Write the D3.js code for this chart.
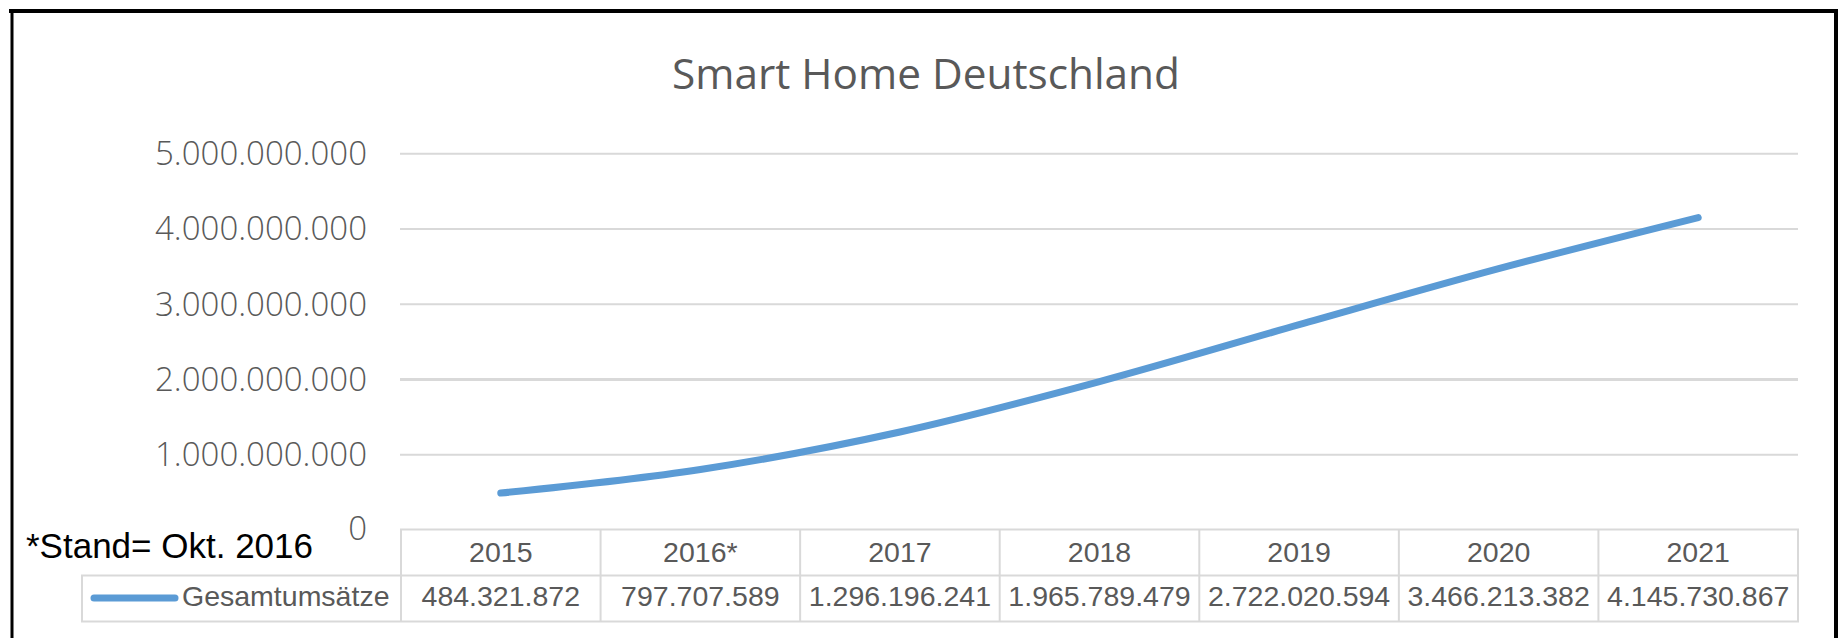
<!DOCTYPE html>
<html>
<head>
<meta charset="utf-8">
<script src="https://cdn.jsdelivr.net/npm/d3@7"></script>
<style>
  html, body { margin: 0; padding: 0; background: #ffffff; }
  svg { display: block; }
</style>
</head>
<body>
<svg id="chart" width="1838" height="638"></svg>
<script>
// ---- data ----
const title = "Smart Home Deutschland";
const categories = ["2015", "2016*", "2017", "2018", "2019", "2020", "2021"];
const seriesName = "Gesamtumsätze";
const values = [484321872, 797707589, 1296196241, 1965789479, 2722020594, 3466213382, 4145730867];
const valueLabels = ["484.321.872", "797.707.589", "1.296.196.241", "1.965.789.479", "2.722.020.594", "3.466.213.382", "4.145.730.867"];
const yTicks = [0, 1000000000, 2000000000, 3000000000, 4000000000, 5000000000];
const footnote = "*Stand= Okt. 2016";

// ---- layout ----
const W = 1838, H = 638;
const plotLeft = 401, plotRight = 1798;
const yTop = 153.3, yZero = 529.5;
const row1 = 575.5, row2 = 621.5;
const legendLeft = 82;
const grey = "#595959", gridCol = "#d9d9d9", lineCol = "#5b9bd5";

const svg = d3.select("#chart");
svg.append("rect").attr("width", W).attr("height", H).attr("fill", "#fff");

const x = d3.scaleBand().domain(categories).range([plotLeft, plotRight]);
const y = d3.scaleLinear().domain([0, 5000000000]).range([yZero, yTop]);
const fmt = d3.formatLocale({decimal: ",", thousands: ".", grouping: [3], currency: ["", "€"]}).format(",.0f");

// frame
svg.append("line").attr("x1", 9).attr("x2", W).attr("y1", 11).attr("y2", 11).attr("stroke", "#000").attr("stroke-width", 4);
svg.append("line").attr("x1", 12).attr("x2", 12).attr("y1", 9).attr("y2", H).attr("stroke", "#000").attr("stroke-width", 3);
svg.append("line").attr("x1", 1836).attr("x2", 1836).attr("y1", 9).attr("y2", H).attr("stroke", "#000").attr("stroke-width", 4);

// title
const t = svg.append("text").attr("x", 926).attr("y", 89).attr("text-anchor", "middle")
  .attr("font-family", "'Open Sans', sans-serif").attr("font-size", 44).attr("fill", grey).text(title);
{
  const w = t.node().getComputedTextLength();
  t.attr("font-size", 44 * 508 / w);
}

// y gridlines via axis
const yAxis = d3.axisLeft(y).tickValues(yTicks).tickFormat(fmt).tickSize(-(plotRight - plotLeft)).tickPadding(34);
const gy = svg.append("g").attr("transform", `translate(${plotLeft},0)`).call(yAxis);
gy.select(".domain").remove();
gy.selectAll(".tick line").attr("stroke", gridCol).attr("stroke-width", d => d === 2000000000 ? 3 : 2)
  .attr("x1", -1);
gy.selectAll(".tick").filter(d => d === 0).select("line").remove();
gy.selectAll(".tick text").attr("font-family", "'Open Sans', sans-serif").attr("font-weight", 300)
  .attr("font-size", 33).attr("fill", grey).attr("dy", "0.34em");
gy.selectAll(".tick text").filter(d => d === 0).attr("dy", "0.3em");

// footnote
svg.append("text").attr("x", 26).attr("y", 557.7).attr("font-family", "'Liberation Sans', Arial, sans-serif")
  .attr("font-size", 35).attr("fill", "#000").text(footnote);

// data table
const tbl = svg.append("g");
const hl = (x1, x2, yy) => tbl.append("line").attr("x1", x1).attr("x2", x2).attr("y1", yy).attr("y2", yy)
  .attr("stroke", gridCol).attr("stroke-width", 2);
const vl = (xx, y1, y2) => tbl.append("line").attr("x1", xx).attr("x2", xx).attr("y1", y1).attr("y2", y2)
  .attr("stroke", gridCol).attr("stroke-width", 2);
hl(plotLeft - 1, plotRight + 1, yZero);
hl(legendLeft - 1, plotRight + 1, row1);
hl(legendLeft - 1, plotRight + 1, row2);
vl(legendLeft, row1, row2);
categories.forEach(c => vl(x(c), yZero, row2));
vl(plotRight, yZero, row2);

tbl.selectAll("text.hdr").data(categories).join("text").attr("class", "hdr")
  .attr("x", d => x(d) + x.bandwidth() / 2).attr("y", 561.5).attr("text-anchor", "middle")
  .attr("font-family", "'Liberation Sans', Arial, sans-serif").attr("font-size", 28.5).attr("fill", grey).text(d => d);
tbl.selectAll("text.val").data(valueLabels).join("text").attr("class", "val")
  .attr("x", (d, i) => x(categories[i]) + x.bandwidth() / 2).attr("y", 606).attr("text-anchor", "middle")
  .attr("font-family", "'Liberation Sans', Arial, sans-serif").attr("font-size", 28.5).attr("fill", grey).text(d => d);

// legend key in table
tbl.append("line").attr("x1", 94).attr("x2", 175).attr("y1", 598).attr("y2", 598)
  .attr("stroke", lineCol).attr("stroke-width", 7).attr("stroke-linecap", "round");
tbl.append("text").attr("x", 182).attr("y", 606).attr("font-family", "'Liberation Sans', Arial, sans-serif")
  .attr("font-size", 28.5).attr("fill", grey).text(seriesName);

// series line
const line = d3.line().x((d, i) => x(categories[i]) + x.bandwidth() / 2).y(d => y(d)).curve(d3.curveCardinal.tension(0));
svg.append("path").datum(values).attr("d", line).attr("fill", "none").attr("stroke", lineCol)
  .attr("stroke-width", 7).attr("stroke-linecap", "round").attr("stroke-linejoin", "round");
</script>
</body>
</html>
